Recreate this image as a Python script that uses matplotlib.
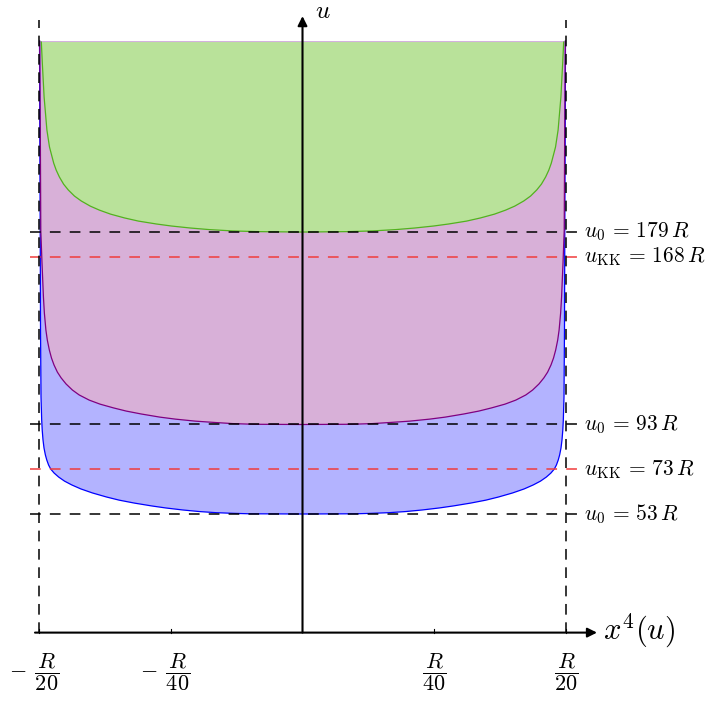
import matplotlib
matplotlib.use("Agg")
import matplotlib.pyplot as plt
import numpy as np

plt.rcParams["mathtext.fontset"] = "cm"
plt.rcParams["font.family"] = "serif"
plt.rcParams["font.serif"] = ["DejaVu Serif"]

# Brane profiles x^4(u) (left half, from the top down); x and u in units of R
u_green = [263.9, 254.5, 239.3, 224.6, 217.0, 209.8, 206.7, 203.6, 200.4, 197.8,
           195.1, 192.9, 190.6, 188.8, 187.0, 185.3, 183.9, 182.6, 181.7, 180.8,
           180.1, 179.5, 179.2, 179.0]
x_green = [-0.04956, -0.04937, -0.04903, -0.04850, -0.04801, -0.04721, -0.04674,
           -0.04613, -0.04533, -0.04444, -0.04328, -0.04199, -0.04028, -0.03854,
           -0.03641, -0.03376, -0.03114, -0.02772, -0.02488, -0.02127, -0.01770,
           -0.01326, -0.00871, 0.0]

u_purple = [264.3, 224.6, 179.9, 165.1, 150.0, 142.8, 135.2, 130.7, 126.3, 122.7,
            119.6, 116.4, 113.8, 111.1, 108.4, 106.2, 103.9, 102.1, 100.4, 99.0,
            97.7, 96.3, 95.4, 94.5, 93.9, 93.4, 93.1, 93.0]
x_purple = [-0.04987, -0.04975, -0.04966, -0.04943, -0.04916, -0.04898, -0.04869,
            -0.04842, -0.04804, -0.04763, -0.04715, -0.04651, -0.04579, -0.04486,
            -0.04366, -0.04237, -0.04047, -0.03842, -0.03584, -0.03345, -0.03061,
            -0.02708, -0.02412, -0.02032, -0.01662, -0.01321, -0.00922, 0.0]

u_blue = [264.3, 224.6, 179.9, 135.2, 105.4, 95.0, 90.5, 86.1, 82.5, 79.4, 77.1,
          74.9, 73.1, 71.3, 69.5, 67.7, 66.0, 64.2, 62.4, 60.6, 59.2, 57.9, 56.6,
          55.7, 54.8, 54.1, 53.6, 53.3, 53.1, 53.0]
x_blue = [-0.04990, -0.04985, -0.04977, -0.04971, -0.04962, -0.04949, -0.04939,
          -0.04924, -0.04905, -0.04879, -0.04852, -0.04818, -0.04778, -0.04713,
          -0.04626, -0.04516, -0.04379, -0.04205, -0.03985, -0.03719, -0.03480,
          -0.03195, -0.02860, -0.02594, -0.02271, -0.01958, -0.01645, -0.01311,
          -0.01008, 0.0]

# Reference levels
u0_levels = [179, 93, 53]
ukk_levels = [168, 73]

# x-axis ticks
tick_pos = [-0.05, -0.025, 0.025, 0.05]
tick_labels = [r"$-\;\,\dfrac{R}{20}$", r"$-\;\,\dfrac{R}{40}$",
               r"$\dfrac{R}{40}$", r"$\dfrac{R}{20}$"]
tick_shift = [-0.0010, -0.0010, 0.0, 0.0]

half_width = 0.05


def full_curve(xs, us):
    xs = np.asarray(xs)
    us = np.asarray(us)
    return (np.concatenate([xs, -xs[::-1][1:]]),
            np.concatenate([us, us[::-1][1:]]))


fig = plt.figure(figsize=(7.17, 7.05), dpi=100)
ax = fig.add_axes([0, 0, 1, 1])
ax.set_xlim(-0.05740, 0.07865)
ax.set_ylim(-32.35, 282.7)
ax.axis("off")

curves = [
    (x_blue, u_blue, "#b3b3ff", "#0000ff"),
    (x_purple, u_purple, "#d8b0d8", "#800080"),
    (x_green, u_green, "#b9e29a", "#52b21e"),
]
for xs, us, fc, lc in curves:
    fx, fu = full_curve(xs, us)
    ax.fill(fx, fu, color=fc, lw=0, zorder=1)
    ax.plot(fx, fu, color=lc, lw=0.9, zorder=2, solid_joinstyle="round")

# Horizontal reference lines with labels
x_lo, x_hi = -0.05170, 0.05240
x_text = 0.05340
for u0 in u0_levels:
    ax.plot([x_lo, x_hi], [u0, u0], color="black", lw=1.1,
            ls=(0, (7, 6)), zorder=3)
    ax.text(x_text, u0, rf"$u_0\,=\,{u0}\,R$", fontsize=15.5,
            ha="left", va="center")
for uk in ukk_levels:
    ax.plot([x_lo, x_hi], [uk, uk], color="#f03c3c", lw=1.1,
            ls=(0, (7, 6)), zorder=3)
    ax.text(x_text, uk, rf"$u_{{\rm KK}}\,=\,{uk}\,R$", fontsize=15.5,
            ha="left", va="center")

# Vertical boundaries at x = +/- R/20
for xv in (-half_width, half_width):
    ax.plot([xv, xv], [0, 273.7], color="black", lw=1.1,
            ls=(0, (7, 5)), zorder=3)

# Axes with arrows
ax.annotate("", xy=(0.05588, 0), xytext=(-0.05076, 0),
            arrowprops=dict(arrowstyle="-|>", color="black", lw=1.5,
                            mutation_scale=14, shrinkA=0, shrinkB=0),
            zorder=4)
ax.annotate("", xy=(0, 275.5), xytext=(0, 0),
            arrowprops=dict(arrowstyle="-|>", color="black", lw=1.5,
                            mutation_scale=14, shrinkA=0, shrinkB=0),
            zorder=4)

for xt, lab, dx in zip(tick_pos, tick_labels, tick_shift):
    ax.plot([xt, xt], [0, 1.8], color="black", lw=0.8, zorder=4)
    ax.text(xt + dx, -17.6, lab, fontsize=16, ha="center", va="center")

ax.text(0.00390, 274.5, r"$u$", fontsize=18, ha="center", va="baseline")
ax.text(0.05702, 1.0, r"$x^4(u)$", fontsize=22, ha="left", va="center")

fig.savefig("out.png", dpi=100)
